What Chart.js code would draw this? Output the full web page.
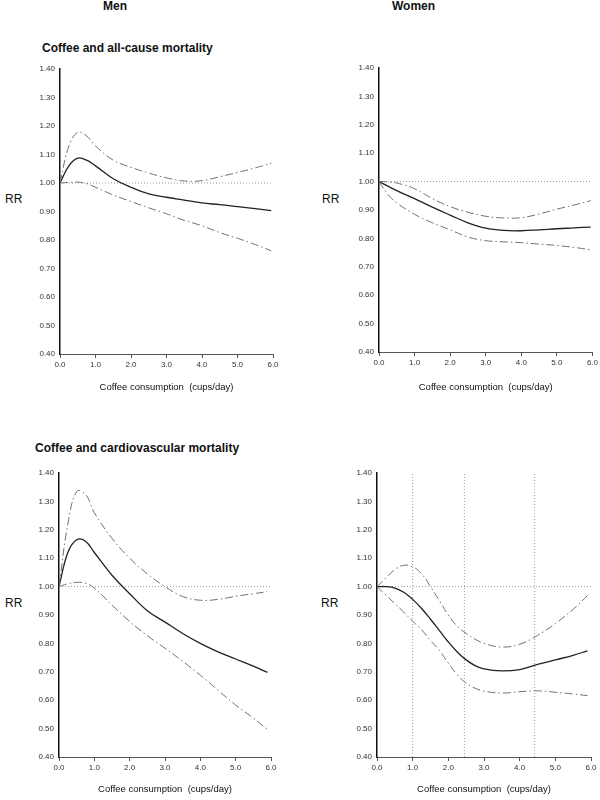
<!DOCTYPE html>
<html>
<head>
<meta charset="utf-8">
<title>Coffee and mortality</title>
<script src="https://cdn.jsdelivr.net/npm/chart.js@4.4.1/dist/chart.umd.min.js"></script>
<style>
  body {
    margin: 0;
    width: 600px;
    height: 800px;
    position: relative;
    overflow: hidden;
    background: #fff;
    font-family: "Liberation Sans", Arial, sans-serif;
  }
  .lbl {
    position: absolute;
    white-space: nowrap;
    color: #111;
    line-height: 14px;
  }
  .head {
    font-weight: bold;
    font-size: 12px;
  }
  .rr {
    font-size: 12px;
  }
  canvas {
    position: absolute;
  }
</style>
</head>
<body>
<div class="lbl head" style="left:103px; top:-1px">Men</div>
<div class="lbl head" style="left:392px; top:-1px">Women</div>
<div class="lbl head" style="left:42px; top:41px">Coffee and all-cause mortality</div>
<div class="lbl head" style="left:35px; top:441px">Coffee and cardiovascular mortality</div>
<div class="lbl rr" style="left:5px; top:192px">RR</div>
<div class="lbl rr" style="left:322px; top:192px">RR</div>
<div class="lbl rr" style="left:5px; top:596px">RR</div>
<div class="lbl rr" style="left:321px; top:596px">RR</div>

<script>
// axis ticks
const xTicks = [0, 1, 2, 3, 4, 5, 6];
const yTicks = [0.4, 0.5, 0.6, 0.7, 0.8, 0.9, 1.0, 1.1, 1.2, 1.3, 1.4];
const refRR = 1.0;
const xTitle = "Coffee consumption  (cups/day)";

// men, all-cause mortality
const xMenAll = [0, 0.25, 0.5, 0.75, 1, 1.5, 2, 2.5, 3, 3.5, 4, 4.5, 5, 5.5, 5.95];
const menAllRR = [1.0, 1.06, 1.087, 1.08, 1.06, 1.015, 0.985, 0.962, 0.95, 0.94, 0.93, 0.924, 0.917, 0.91, 0.903];
const menAllHigh = [1.0, 1.13, 1.178, 1.165, 1.13, 1.08, 1.055, 1.035, 1.018, 1.007, 1.008, 1.022, 1.037, 1.053, 1.069];
const menAllLow = [1.0, 1.002, 1.003, 0.998, 0.985, 0.958, 0.935, 0.913, 0.892, 0.869, 0.85, 0.826, 0.806, 0.784, 0.762];

// women, all-cause mortality
const xWomenAll = [0, 0.25, 0.5, 1, 1.5, 2, 2.5, 3, 3.5, 4, 4.5, 5, 5.5, 5.95];
const womenAllRR = [1.0, 0.984, 0.968, 0.94, 0.91, 0.882, 0.855, 0.836, 0.828, 0.827, 0.83, 0.834, 0.837, 0.84];
const womenAllHigh = [1.0, 0.999, 0.995, 0.975, 0.94, 0.912, 0.892, 0.878, 0.872, 0.873, 0.886, 0.903, 0.918, 0.933];
const womenAllLow = [1.0, 0.955, 0.925, 0.885, 0.855, 0.83, 0.805, 0.792, 0.788, 0.785, 0.78, 0.775, 0.768, 0.76];

// men, cardiovascular mortality
const xMenCV = [0, 0.25, 0.5, 0.75, 1, 1.5, 2, 2.5, 3, 3.5, 4, 4.5, 5, 5.5, 5.9];
const menCVRR = [1.0, 1.12, 1.165, 1.16, 1.12, 1.04, 0.975, 0.915, 0.875, 0.835, 0.8, 0.77, 0.745, 0.72, 0.698];
const menCVHigh = [1.0, 1.22, 1.335, 1.325, 1.26, 1.17, 1.1, 1.045, 1.0, 0.965, 0.952, 0.955, 0.966, 0.975, 0.982];
const menCVLow = [1.0, 1.01, 1.015, 1.012, 0.995, 0.935, 0.877, 0.827, 0.783, 0.737, 0.688, 0.635, 0.583, 0.537, 0.497];

// women, cardiovascular mortality
const xWomenCV = [0, 0.25, 0.5, 0.75, 1, 1.25, 1.5, 1.75, 2, 2.25, 2.5, 2.75, 3, 3.5, 4, 4.5, 5, 5.5, 5.9];
const womenCVRR = [1.0, 1.0, 0.995, 0.98, 0.955, 0.923, 0.885, 0.845, 0.805, 0.77, 0.742, 0.722, 0.71, 0.703, 0.708, 0.726, 0.742, 0.758, 0.774];
const womenCVHigh = [1.0, 1.03, 1.06, 1.075, 1.07, 1.045, 1.0, 0.95, 0.9, 0.86, 0.835, 0.815, 0.8, 0.787, 0.797, 0.828, 0.87, 0.92, 0.968];
const womenCVLow = [1.0, 0.97, 0.94, 0.91, 0.878, 0.848, 0.81, 0.775, 0.73, 0.69, 0.66, 0.642, 0.632, 0.625, 0.63, 0.633, 0.628, 0.622, 0.616];
const knotsWomenCV = [1.0, 2.45, 4.42];

const family = "'Liberation Sans', Arial, sans-serif";
const tickFont = { family: family, size: 8 };

function pts(xs, ys) {
  return xs.map((x, i) => ({ x: x, y: ys[i] }));
}

function curve(data, dashed) {
  return {
    data: data,
    borderColor: dashed ? "#707070" : "#222",
    borderWidth: dashed ? 1 : 1.3,
    borderDash: dashed ? [8, 3, 1.5, 3] : [],
    pointRadius: 0,
    tension: 0.4,
    fill: false,
    order: 1,
  };
}

function dotted(data) {
  return {
    data: data,
    borderColor: "#9a9a9a",
    borderWidth: 1,
    borderDash: [1, 2],
    pointRadius: 0,
    tension: 0,
    fill: false,
    order: 2,
  };
}

function panelSets(xs, rr, low, high) {
  return [
    dotted([{ x: xTicks[0], y: refRR }, { x: xTicks[xTicks.length - 1], y: refRR }]),
    curve(pts(xs, high), true),
    curve(pts(xs, low), true),
    curve(pts(xs, rr), false),
  ];
}

// box = canvas position on the page, area = plot area in page pixels
function makePanel(box, datasets) {
  const canvas = document.createElement("canvas");
  canvas.width = box.w;
  canvas.height = box.h;
  canvas.style.left = box.left + "px";
  canvas.style.top = box.top + "px";
  document.body.appendChild(canvas);

  const titleSize = 9.5;
  const yWidth = box.area.l - box.left;
  const xHeight = box.top + box.h - box.area.b;
  const titlePad = box.top + box.h - box.titleY - (titleSize * 1.2) / 2;

  new Chart(canvas, {
    type: "line",
    data: { datasets: datasets },
    options: {
      responsive: false,
      animation: false,
      devicePixelRatio: 1,
      layout: {
        padding: {
          left: 0,
          top: box.area.t - box.top,
          right: box.left + box.w - box.area.r,
          bottom: 0,
        },
      },
      plugins: { legend: { display: false }, tooltip: { enabled: false } },
      scales: {
        x: {
          type: "linear",
          min: xTicks[0],
          max: xTicks[xTicks.length - 1],
          afterBuildTicks: (s) => {
            s.ticks = xTicks.map((v) => ({ value: v }));
          },
          afterFit: (s) => {
            s.height = xHeight;
          },
          ticks: {
            callback: (v) => Number(v).toFixed(1),
            font: tickFont,
            color: "#333",
            padding: 2,
            maxRotation: 0,
            autoSkip: false,
          },
          grid: { drawOnChartArea: false, drawTicks: true, tickLength: 4, color: "#555" },
          border: { color: "#555", width: 1 },
          title: {
            display: true,
            text: xTitle,
            color: "#111",
            font: { family: family, size: titleSize },
            padding: { top: 0, bottom: titlePad },
          },
        },
        y: {
          type: "linear",
          min: yTicks[0],
          max: yTicks[yTicks.length - 1],
          afterBuildTicks: (s) => {
            s.ticks = yTicks.map((v) => ({ value: v }));
          },
          afterFit: (s) => {
            s.width = yWidth;
          },
          ticks: {
            callback: (v) => Number(v).toFixed(2),
            font: tickFont,
            color: "#333",
            padding: 5,
            autoSkip: false,
          },
          grid: { display: false, drawTicks: false },
          border: { color: "#111", width: 1.5 },
        },
      },
    },
  });
}

makePanel(
  { left: 0, top: 55, w: 295, h: 345, area: { l: 60, r: 273, t: 69, b: 354 }, titleY: 387 },
  panelSets(xMenAll, menAllRR, menAllLow, menAllHigh)
);

makePanel(
  { left: 300, top: 55, w: 300, h: 345, area: { l: 379, r: 593, t: 68, b: 352 }, titleY: 387 },
  panelSets(xWomenAll, womenAllRR, womenAllLow, womenAllHigh)
);

makePanel(
  { left: 0, top: 455, w: 295, h: 345, area: { l: 59, r: 271, t: 473, b: 757 }, titleY: 789 },
  panelSets(xMenCV, menCVRR, menCVLow, menCVHigh)
);

// women CV panel also shows the spline knots as dotted verticals
const knotLines = knotsWomenCV.map((k) =>
  dotted([{ x: k, y: yTicks[0] }, { x: k, y: yTicks[yTicks.length - 1] }])
);
makePanel(
  { left: 300, top: 455, w: 300, h: 345, area: { l: 377, r: 591, t: 473, b: 757 }, titleY: 789 },
  knotLines.concat(panelSets(xWomenCV, womenCVRR, womenCVLow, womenCVHigh))
);
</script>
</body>
</html>
